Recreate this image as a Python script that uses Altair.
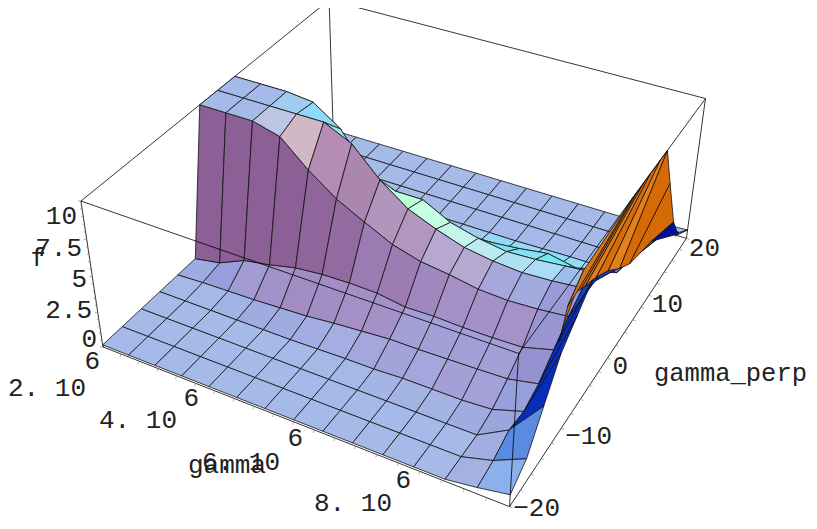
import numpy as np
import altair as alt

# f(gamma row r, gamma_perp index p) (clipped at 10)
F_BY_P = [
 [0,0,0,0,0,0,0,0,0,0,0,0,0,.3,.7],
 [0,0,0,0,0,0,0,0,0,0,0,0,0,.6,1.6],
 [0,0,0,0,0,0,0,0,0,0,0,0,0,1.2,3.7],
 [0,0,0,0,0,0,.05,.1,.1,.2,.2,.2,.33,1.0,5.8],
 [0,.1,.15,.2,.3,.4,.6,.75,.9,.9,.95,1,1.07,1.5,6.9],
 [0,.35,1.2,1.55,2,2.2,2.25,2.2,1.9,1.95,1.87,1.87,1.93,2.5,8],
 [10,10,10,9.5,7.8,6.4,5.4,4.45,3.9,3.65,3.3,3.2,3.3,3.5,7.6],
 [10,10,10,10,10,9.1,7.2,5.8,5,4.35,4.05,3.9,4,4.2,6.2],
 [10,10,10,9.8,8.5,6,5.3,5.3,4.3,3.8,3.5,3.6,3.8,4,5.3],
 [0,0,0,.1,.3,.6,1.2,1.8,2.1,2.3,2.5,2.8,2.4,3,4.9],
 [0,0,0,0,0,0,.1,.2,.3,.4,.5,.7,.9,1.5,4.4],
 [0,0,0,0,0,0,0,0,0,0,.05,.1,.1,1,3.6],
 [0,0,0,0,0,0,0,0,0,0,0,0,0,.8,3],
 [0,0,0,0,0,0,0,0,0,0,0,0,0,.6,1.5],
 [0,0,0,0,0,0,0,0,0,0,0,0,0,.4,.5],
]
F = np.array(F_BY_P, float).T   # F[r, p]
N = 14

# Folded sheet at the gamma-max end: (perp index, f)
FOLD_TOP = [(3.0,7.6),(4.2,9.6),(7.8,10),(8.2,10),(8.7,10),(9.2,10),(10,10),(10.6,10),(11.3,7),(12.22,3.2)]
FOLD_LOW = [(2.8,6.9),(3.22,8.6),(3.89,8.7),(4.11,8.5),(4.49,8.3),(5.3,7.8),(6.27,7.0),(7.27,5.9),(8.17,5.1),(10.08,4.35)]
FOLD_COL = ["#d86c08","#dc7410","#e47c18","#d86c08","#e47c18","#d86c08","#e67e1a","#d66a06","#d66a06"]

# camera calibration: box corners (u,v,w) and where they appear
BOX = {(0,0,0):(103,347),(1,0,0):(510,507),(1,1,0):(686,238),(0,0,1):(81,201),
       (1,0,1):(518,353),(1,1,1):(706,99),(0,1,1):(329,0)}
rows = []
for (u,v,w),(x,y) in BOX.items():
    rows.append([u,v,w,1,0,0,0,0,-x*u,-x*v,-x*w,-x])
    rows.append([0,0,0,0,u,v,w,1,-y*u,-y*v,-y*w,-y])
P = np.linalg.svd(np.array(rows,float))[2][-1].reshape(3,4)

def proj(u,v,w):
    h = P @ np.array([u,v,w,1.0])
    return [float(h[0]/h[2]-8), float(h[1]/h[2]-8)]
def pt(r,p,f):
    return proj(r/N,p/N,(f+.15)/10.15)

# shading: colour anchors over unit normals (box metric 1:1:.4)
ANCH = [((0,0,1),(166,186,232)),((0,-.98,.18),(140,95,150)),((0,-.85,.5),(145,105,160)),
        ((.18,-.77,.61),(155,125,180)),((.08,-.61,.79),(165,145,200)),((0,-.45,.89),(165,160,215)),
        ((0,-.3,.95),(165,175,228)),((.36,-.75,.5),(172,135,175)),((.34,-.56,.75),(178,150,190)),
        ((.26,-.35,.9),(183,170,210)),((.55,-.25,.8),(205,180,195)),
        ((.15,-.1,.98),(178,190,228)),((.3,0,.95),(190,200,225)),
        ((0,.3,.95),(145,220,250)),((0,.6,.8),(115,235,240)),((.3,.3,.9),(190,255,220)),
        ((.2,.15,.96),(175,235,240)),((.1,.1,.99),(160,210,245)),
        ((-.27,0,.96),(135,170,235)),((-.6,-.1,.8),(85,135,225)),((-.86,-.2,.45),(5,45,185)),
        ((-.5,-.5,.7),(85,130,220)),((-.2,-.3,.93),(150,160,222)),((-.1,-.15,.98),(158,172,226)),
        ((-.2,-.4,.9),(150,145,208))]
AN = np.array([a[0] for a in ANCH],float); AN /= np.linalg.norm(AN,axis=1,keepdims=True)
AC = np.array([a[1] for a in ANCH],float)
OVERRIDE = {(3,6):"#d0b8c4",(2,6):"#bcc6e2",(4,6):"#b48cb4",(3,7):"#8ed8fa",
            (6,7):"#bcffd6",(7,7):"#c3ffe0",(8,7):"#c3f5ea",(9,7):"#bbebf0",(10,7):"#afe1f5",(11,7):"#aadcfa",
            (12,0):"#a3b2e3",(12,1):"#a0aee0",(12,2):"#9aa6dc",(12,3):"#96a0da",
            (13,0):"#8cb0ec",(13,1):"#5a8ae2"}
def shade(n):
    d = np.maximum(np.linalg.norm(AN-n,axis=1),1e-3)
    w = d**-5
    c = (w[:,None]*AC).sum(0)/w.sum()
    return "#%02x%02x%02x" % tuple(int(x) for x in c)

quads = []
t = np.array([.42,-.73,.53])
for r in range(N):
    for p in range(N):
        a = np.array([r/N,p/N,.04*F[r,p]]); b = np.array([(r+1)/N,p/N,.04*F[r+1,p]])
        c = np.array([(r+1)/N,(p+1)/N,.04*F[r+1,p+1]]); d = np.array([r/N,(p+1)/N,.04*F[r,p+1]])
        n = np.cross(c-a,d-b); n = n/np.linalg.norm(n)
        if n[2] < 0: n = -n
        depth = float(((a+b+c+d)/4) @ t)
        ring = [pt(r,p,F[r,p]),pt(r+1,p,F[r+1,p]),pt(r+1,p+1,F[r+1,p+1]),pt(r,p+1,F[r,p+1])]
        quads.append((depth,ring,OVERRIDE.get((r,p),shade(n))))
quads.sort(key=lambda q:q[0])

def poly(ring,col):
    return {"type":"Feature","properties":{"c":col},
            "geometry":{"type":"Polygon","coordinates":[ring+[ring[0]]]}}
def line(pts):
    return {"type":"Feature","properties":{},"geometry":{"type":"LineString","coordinates":pts}}

surf = [poly(q[1],q[2]) for q in quads]

fold = []
for i in range(len(FOLD_TOP)-1):
    ring = [pt(N,*FOLD_LOW[i]),pt(N,*FOLD_TOP[i]),pt(N,*FOLD_TOP[i+1]),pt(N,*FOLD_LOW[i+1])]
    fold.append(poly(ring,FOLD_COL[i]))
fold.append(poly([pt(N,*FOLD_TOP[-1]),pt(N,12.9,1.5),pt(N,*FOLD_LOW[-1])],"#00129a"))
fold.append(poly([pt(N,12.9,1.5),pt(N,14,.5),pt(N,12.6,1.7)],"#5aa0f0"))

c = lambda u,v,w: proj(u,v,w)
back = [line([c(0,1,1),c(0,1,0)]),line([c(0,1,1),c(0,0,1)]),line([c(0,1,1),c(1,1,1)]),
        line([c(0,0,0),c(0,1,0)]),line([c(0,1,0),c(1,1,0)])]
front = [line([c(0,0,0),c(1,0,0)]),line([c(1,0,0),c(1,1,0)]),line([c(0,0,0),c(0,0,1)]),
         line([c(0,0,1),c(1,0,1)]),line([c(1,0,1),c(1,1,1)]),line([c(1,0,0),c(1,0,1)]),
         line([c(1,1,0),c(1,1,1)])]
ticks = []
for k in range(0,21):
    w = k/20; a = c(0,0,w); ticks.append(line([a,[a[0]-(3 if k%5==0 else 2),a[1]]]))
for k in range(0,41,2):
    v = k/40; a = c(1,v,0); ticks.append(line([a,[a[0]+3,a[1]+1]]))
for k in range(1,20):
    u = k/20; a = c(u,0,0); ticks.append(line([a,[a[0]-1,a[1]+3]]))

LAB_TEXT = ["10","7.5","f","5","2.5","0","6","2. 10","6","4. 10","6","6. 10","gamma","6","8. 10",
            "\u221220","\u221210","0","10","20","gamma_perp"]
LAB_X = [77,82,46,87,92,97,100,8,199,177,303,280,188,411,392,560,612,628,683,720,654]
LAB_Y = [216,248,258,279,310,339,361,388,398,420,438,462,465,480,503,508,436,366,304,248,373]
LAB_AL = ["right","right","right","right","right","right","right","left","right","right","right","right","left","right","right","right","right","right","right","right","left"]
LAB_SZ = [26]*20 + [25.5]
labs = [{"t":a,"x":x-8,"y":y-8,"a":al,"s":s} for a,x,y,al,s in zip(LAB_TEXT,LAB_X,LAB_Y,LAB_AL,LAB_SZ)]

prj = alt.Projection(type="identity",scale=1,translate=[0,0])
def geo(feats,**kw):
    return alt.Chart(alt.Data(values=feats)).mark_geoshape(**kw).project(**prj.to_dict())

back_l = geo(back,filled=False,stroke="#000",strokeWidth=.8)
surf_l = geo(surf,stroke="#111",strokeWidth=.8).encode(fill=alt.Fill("properties.c:N",scale=None))
fold_l = geo(fold,stroke="#111",strokeWidth=.8).encode(fill=alt.Fill("properties.c:N",scale=None))
front_l = geo(front,filled=False,stroke="#000",strokeWidth=.8)
tick_l = geo(ticks,filled=False,stroke="#888",strokeWidth=.7)

def text_layer(al):
    sub = [l for l in labs if l["a"]==al]
    return alt.Chart(alt.Data(values=sub)).mark_text(font="Liberation Mono",align=al,baseline="middle",color="#222").encode(
        x=alt.X("x:Q",scale=None,axis=None),y=alt.Y("y:Q",scale=None,axis=None),text="t:N",
        size=alt.Size("s:Q",scale=None,legend=None))

chart = alt.layer(back_l,surf_l,fold_l,front_l,tick_l,text_layer("left"),text_layer("right")).properties(
    width=801,height=513,padding=0,autosize=alt.AutoSizeParams(type="none")).configure_view(stroke=None)
chart.save("out.html",embed_options={"renderer":"svg","actions":False})
